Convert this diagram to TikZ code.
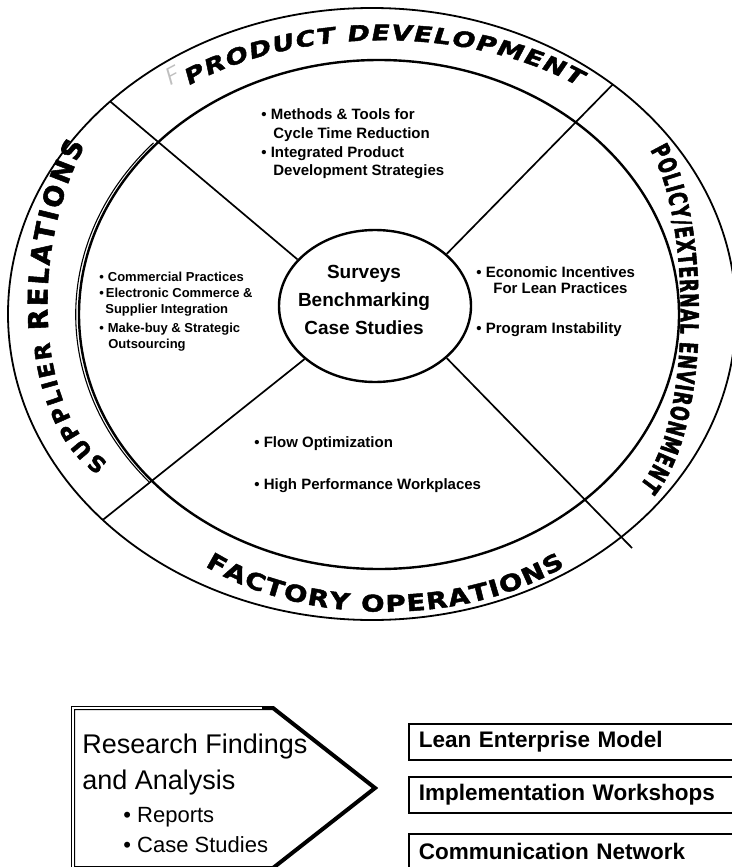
\documentclass[tikz,border=0pt]{standalone}
\usepackage{fontspec}
\setmainfont{Liberation Sans}
\newfontfamily\ringtop[FakeStretch=1.25,FakeSlant=0.2,FakeBold=2]{DejaVu Sans Bold}
\newfontfamily\ringbottom[FakeStretch=1.2,FakeBold=2]{DejaVu Sans Bold}
\newfontfamily\ringleft[FakeBold=2]{DejaVu Sans Bold}
\newfontfamily\ringright[FakeStretch=0.68,FakeBold=2]{DejaVu Sans Bold}
\newcommand\ringtopfont{\ringtop\fontsize{21.5}{21.5}\selectfont}
\newcommand\ringbottomfont{\ringbottom\fontsize{23}{23}\selectfont}
\newcommand\ringleftsmall{\ringleft\fontsize{22}{22}\selectfont}
\newcommand\ringleftfont{\ringleft\fontsize{27}{27}\selectfont}
\newcommand\ringrightfont{\ringright\fontsize{25}{25}\selectfont}
\usetikzlibrary{shapes.geometric,decorations.text}
\tikzset{every picture/.style={line width=0.75pt}}

\begin{document}
\begin{tikzpicture}[x=1pt,y=-1pt,
  bul/.style={anchor=north west,inner sep=0pt,align=left,font=\bfseries\fontsize{15}{18.7}\selectfont},
  smallbul/.style={bul,font=\bfseries\fontsize{13}{15.5}\selectfont},
  outbox/.style={draw,line width=1.8pt,anchor=north west,minimum width=335pt,minimum height=36pt,text width=315pt,inner xsep=10pt,align=left,font=\bfseries\fontsize{22.5}{25}\selectfont},
  ring/.style={decorate,decoration={text along path,text align={fit to path},text={#1}}}]
\useasboundingbox (0,0) rectangle (731,867);

\draw[line width=1.8pt] (372,314) ellipse [x radius=364, y radius=306];
\draw[line width=2.4pt] (379,314.5) ellipse [x radius=300, y radius=254.5];
\draw[line width=1.1pt] ([shift={(378.5,314.5)}]139:302.8 and 256.5) arc [start angle=139, end angle=222, x radius=302.8, y radius=256.5];

\node[draw,ellipse,line width=2.4pt,minimum width=192pt,minimum height=152pt,inner sep=0pt] (hub) at (375,306) {};
\node[align=center,font=\bfseries\fontsize{19}{28}\selectfont] (methods) at (364,300) {Surveys\\Benchmarking\\Case Studies};

\coordinate (ulrim) at ([shift={(372,314)}]224:364 and 306);
\coordinate (urrim) at ([shift={(372,314)}]311.4:364 and 306);
\coordinate (llrim) at ([shift={(372,314)}]137.7:364 and 306);
\coordinate (lrend) at (632,548);
\draw[line width=1.7pt] (ulrim) -- (hub.149);
\draw[line width=1.7pt] (urrim) -- (hub.36);
\draw[line width=1.7pt] (llrim) -- (hub.217.5);
\draw[line width=1.7pt] (lrend) -- (hub.324.5);

\path[ring={|\ringtopfont|PRODUCT DEVELOPMENT}] (188,86) .. controls (298,25) and (468,25) .. (578,86);
\path[ring={|\ringbottomfont|FACTORY OPERATIONS}] (205,566) .. controls (305,627) and (465,627) .. (565,566);
\path[ring={|\ringleftsmall|SUPPLIER |\ringleftfont|RELATIONS}] (108,462) .. controls (40,420) and (25,260) .. (85,145);
\path[ring={|\ringrightfont|POLICY/EXTERNAL ENVIRONMENT}] (650,150) .. controls (690,215) and (695,420) .. (640,485);
\node[text=black!25,rotate=28,font=\sffamily\itshape\fontsize{24}{24}\selectfont] (ficon) at (171,76) {F};

\node[bul] (pdtools) at (261,108.5) {• Methods \& Tools for\\\hspace*{12pt}Cycle Time Reduction\\• Integrated Product\\\hspace*{12pt}Development Strategies};
\node[smallbul] (commercial) at (99,272) {•\hspace{4pt}Commercial Practices};
\node[smallbul] (ecommerce) at (99,288) {•\hspace{2pt}Electronic Commerce \&\\\hspace*{6pt}Supplier Integration};
\node[smallbul] (makebuy) at (99,323) {•\hspace{4pt}Make-buy \& Strategic\\\hspace*{9pt}Outsourcing};
\node[bul,font=\bfseries\fontsize{15}{16}\selectfont] (incentives) at (476,266.5) {• Economic Incentives\\\hspace*{17pt}For Lean Practices};
\node[bul] (instability) at (476,322.5) {• Program Instability};
\node[bul] (flow) at (254,436.5) {• Flow Optimization};
\node[bul] (workplaces) at (254,478.5) {• High Performance Workplaces};

\draw[line width=4pt] (73,708) -- (273,708) -- (375,788) -- (273,868) -- (73,868) -- cycle;
\draw[white,line width=1.2pt] (73,880) -- (73,708) -- (262,708);
\node[anchor=north west,inner sep=0pt,align=left,font=\fontsize{27}{36}\selectfont] (findings) at (82,734) {Research Findings\\and Analysis};
\node[anchor=north west,inner sep=0pt,align=left,font=\fontsize{22}{30}\selectfont] (outputs) at (123,807) {• Reports\\• Case Studies};

\node[outbox] (lem) at (408,723) {Lean Enterprise Model};
\node[outbox] (workshops) at (408,776) {Implementation Workshops};
\node[outbox] (network) at (408,833) {Communication Network};
\end{tikzpicture}
\end{document}
